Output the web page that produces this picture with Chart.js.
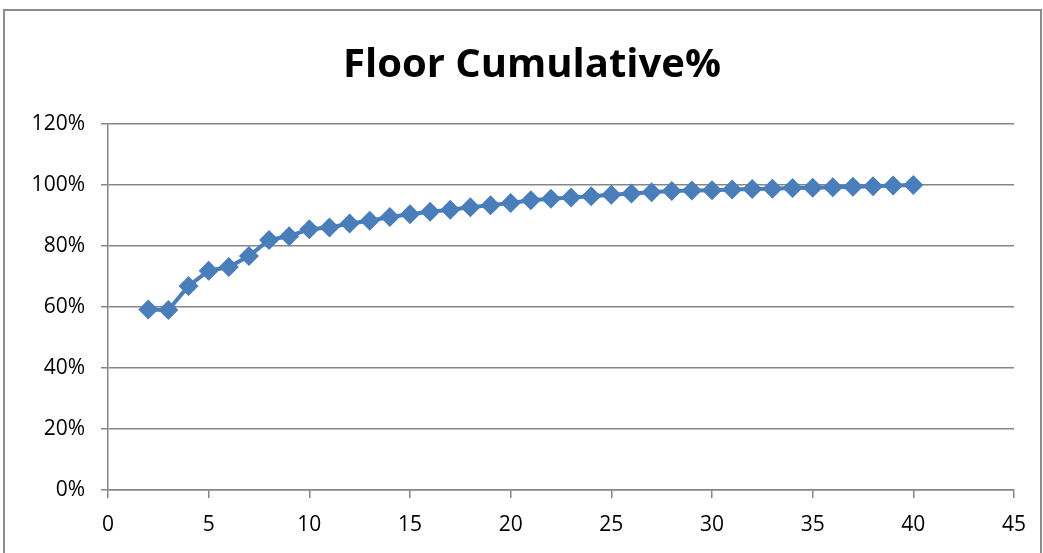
<!DOCTYPE html>
<html>
<head>
<meta charset="utf-8">
<script src="https://cdn.jsdelivr.net/npm/chart.js@4.4.1/dist/chart.umd.min.js"></script>
<style>
  html, body { margin: 0; padding: 0; background: #fff; overflow: hidden; }
  #wrap { position: relative; width: 1043px; height: 553px; }
  #frame { position: absolute; left: 3px; top: 9px; width: 1035px; height: 560px; border: 2px solid #8c8c8c; }
  #mycanvas { position: absolute; left: 0; top: 0; }
</style>
</head>
<body>
<div id="wrap">
  <div id="frame"></div>
  <canvas id="mycanvas" width="1043" height="553"></canvas>
</div>
<script>
var chartTitle = 'Floor Cumulative%';
var floors = [2, 3, 4, 5, 6, 7, 8, 9, 10, 11, 12, 13, 14, 15, 16, 17, 18, 19, 20, 21,
              22, 23, 24, 25, 26, 27, 28, 29, 30, 31, 32, 33, 34, 35, 36, 37, 38, 39, 40];
var cumulative = [59.2, 59.0, 66.9, 71.9, 73.1, 76.7, 82.0, 83.2, 85.5, 86.1, 87.4, 88.3, 89.5, 90.4, 91.2, 91.9, 92.7, 93.4, 94.1, 95.0,
                  95.5, 95.9, 96.3, 96.8, 97.2, 97.6, 98.0, 98.2, 98.3, 98.5, 98.7, 98.8, 99.0, 99.1, 99.3, 99.4, 99.6, 99.8, 100.0];
var xTicks = { min: 0, max: 45, step: 5 };
var yTicks = { min: 0, max: 120, step: 20 };

var points = [];
for (var i in floors) {
	points.push({ x: floors[i], y: cumulative[i] });
}

// title drawn by hand so it can sit off the canvas centre like the original
var titlePlugin = {
	id: 'floorTitle',
	afterDraw: function(chart) {
		var c = chart.ctx;
		c.save();
		c.font = 'bold 40px "Open Sans"';
		c.fillStyle = '#000';
		c.textAlign = 'center';
		c.textBaseline = 'middle';
		c.fillText(chartTitle, 532, 66);
		c.restore();
	}
};

var ctx = document.getElementById('mycanvas');
var myChart = new Chart(ctx, {
	type: 'scatter',
	data: {
		datasets: [{
			label: chartTitle,
			data: points,
			showLine: true,
			borderColor: '#4A7EBB',
			backgroundColor: '#4A7EBB',
			borderWidth: 4,
			pointStyle: 'rectRot',
			pointRadius: 10,
			pointBorderWidth: 0,
			pointBackgroundColor: '#4A7EBB'
		}]
	},
	options: {
		responsive: false,
		animation: false,
		layout: { padding: { left: 0, right: 29, top: 124, bottom: 0 } },
		plugins: {
			legend: { display: false },
			tooltip: { enabled: false },
			title: { display: false }
		},
		scales: {
			x: {
				type: 'linear',
				min: xTicks.min,
				max: xTicks.max,
				afterFit: function(scale) { scale.height = 63; },
				border: { display: true, color: '#868686', width: 1.5 },
				grid: { drawOnChartArea: false, drawTicks: true, tickLength: 8, color: '#868686', lineWidth: 1.5 },
				ticks: {
					stepSize: xTicks.step,
					maxRotation: 0,
					autoSkip: false,
					padding: 14,
					color: '#000',
					font: { family: 'Open Sans', size: 21 }
				}
			},
			y: {
				min: yTicks.min,
				max: yTicks.max,
				afterFit: function(scale) { scale.width = 108; },
				border: { display: true, color: '#868686', width: 1.5 },
				grid: { drawTicks: true, tickLength: 7, color: '#868686', lineWidth: 1.5 },
				ticks: {
					stepSize: yTicks.step,
					padding: 16,
					color: '#000',
					font: { family: 'Open Sans', size: 21 },
					callback: function(value) { return value + '%'; }
				}
			}
		}
	},
	plugins: [titlePlugin]
});
</script>
</body>
</html>
